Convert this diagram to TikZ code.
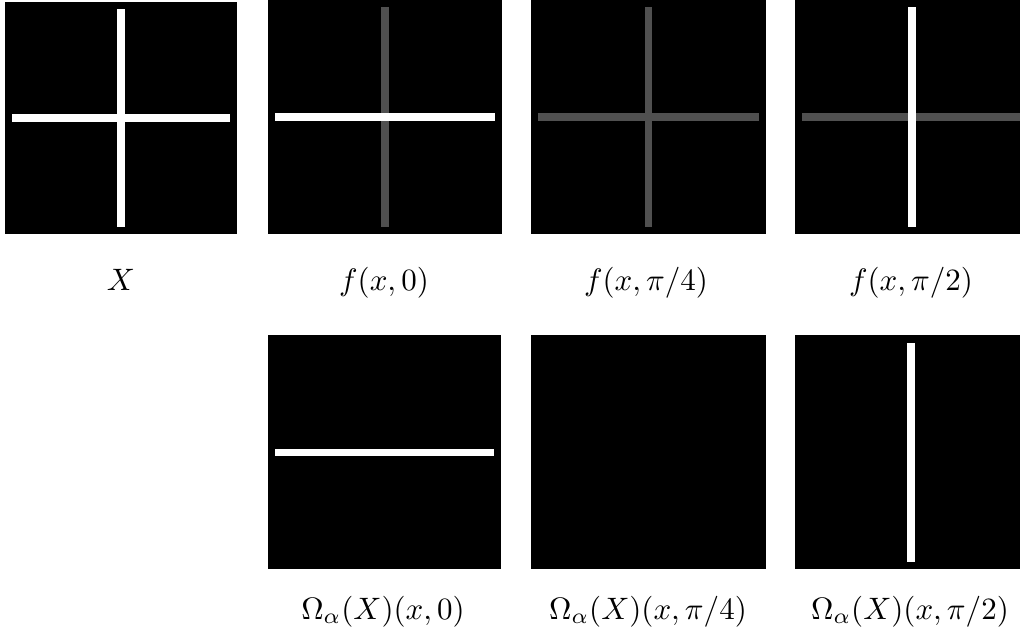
\documentclass[tikz,border=0pt]{standalone}
\usepackage{graphicx}
\definecolor{bargray}{RGB}{80,80,80}
\newcommand{\bigmath}[1]{\scalebox{3.1}{$#1$}}
\tikzset{
  panel/.style={fill=black},
  wbar/.style={fill=white},
  gbar/.style={fill=bargray},
  lbl/.style={anchor=base, inner sep=0pt}
}
\begin{document}
\begin{tikzpicture}[x=1pt,y=-1pt]
\useasboundingbox (0,0) rectangle (1020,639);
% top row
\fill[panel] (5,2) rectangle (237,234);
\fill[wbar] (117,9) rectangle (125,227);
\fill[wbar] (12,114) rectangle (230,122);

\fill[panel] (268,0) rectangle (502,234);
\fill[gbar] (381,7) rectangle (389,227);
\fill[wbar] (275,113) rectangle (495,121);

\fill[panel] (531,0) rectangle (766,234);
\fill[gbar] (645,7) rectangle (652,227);
\fill[gbar] (538,113) rectangle (759,121);

\fill[panel] (795,0) rectangle (1020,234);
\fill[gbar] (802,113) rectangle (1020,121);
\fill[wbar] (908,7) rectangle (916,227);

% bottom row
\fill[panel] (268,335) rectangle (501,569);
\fill[wbar] (275,449) rectangle (494,456);

\fill[panel] (531,335) rectangle (766,569);

\fill[panel] (795,335) rectangle (1020,569);
\fill[wbar] (907,343) rectangle (915,562);

% labels
\node[lbl] (lX) at (121,290) {\bigmath{X}};
\node[lbl] (l1) at (384,290) {\bigmath{f(x,0)}};
\node[lbl] (l2) at (646,290) {\bigmath{f(x,\pi/4)}};
\node[lbl] (l3) at (911,290) {\bigmath{f(x,\pi/2)}};
\node[lbl] (m1) at (383,619) {\bigmath{\Omega_\alpha(X)(x,0)}};
\node[lbl] (m2) at (648,619) {\bigmath{\Omega_\alpha(X)(x,\pi/4)}};
\node[lbl] (m3) at (910,619) {\bigmath{\Omega_\alpha(X)(x,\pi/2)}};
\end{tikzpicture}
\end{document}
